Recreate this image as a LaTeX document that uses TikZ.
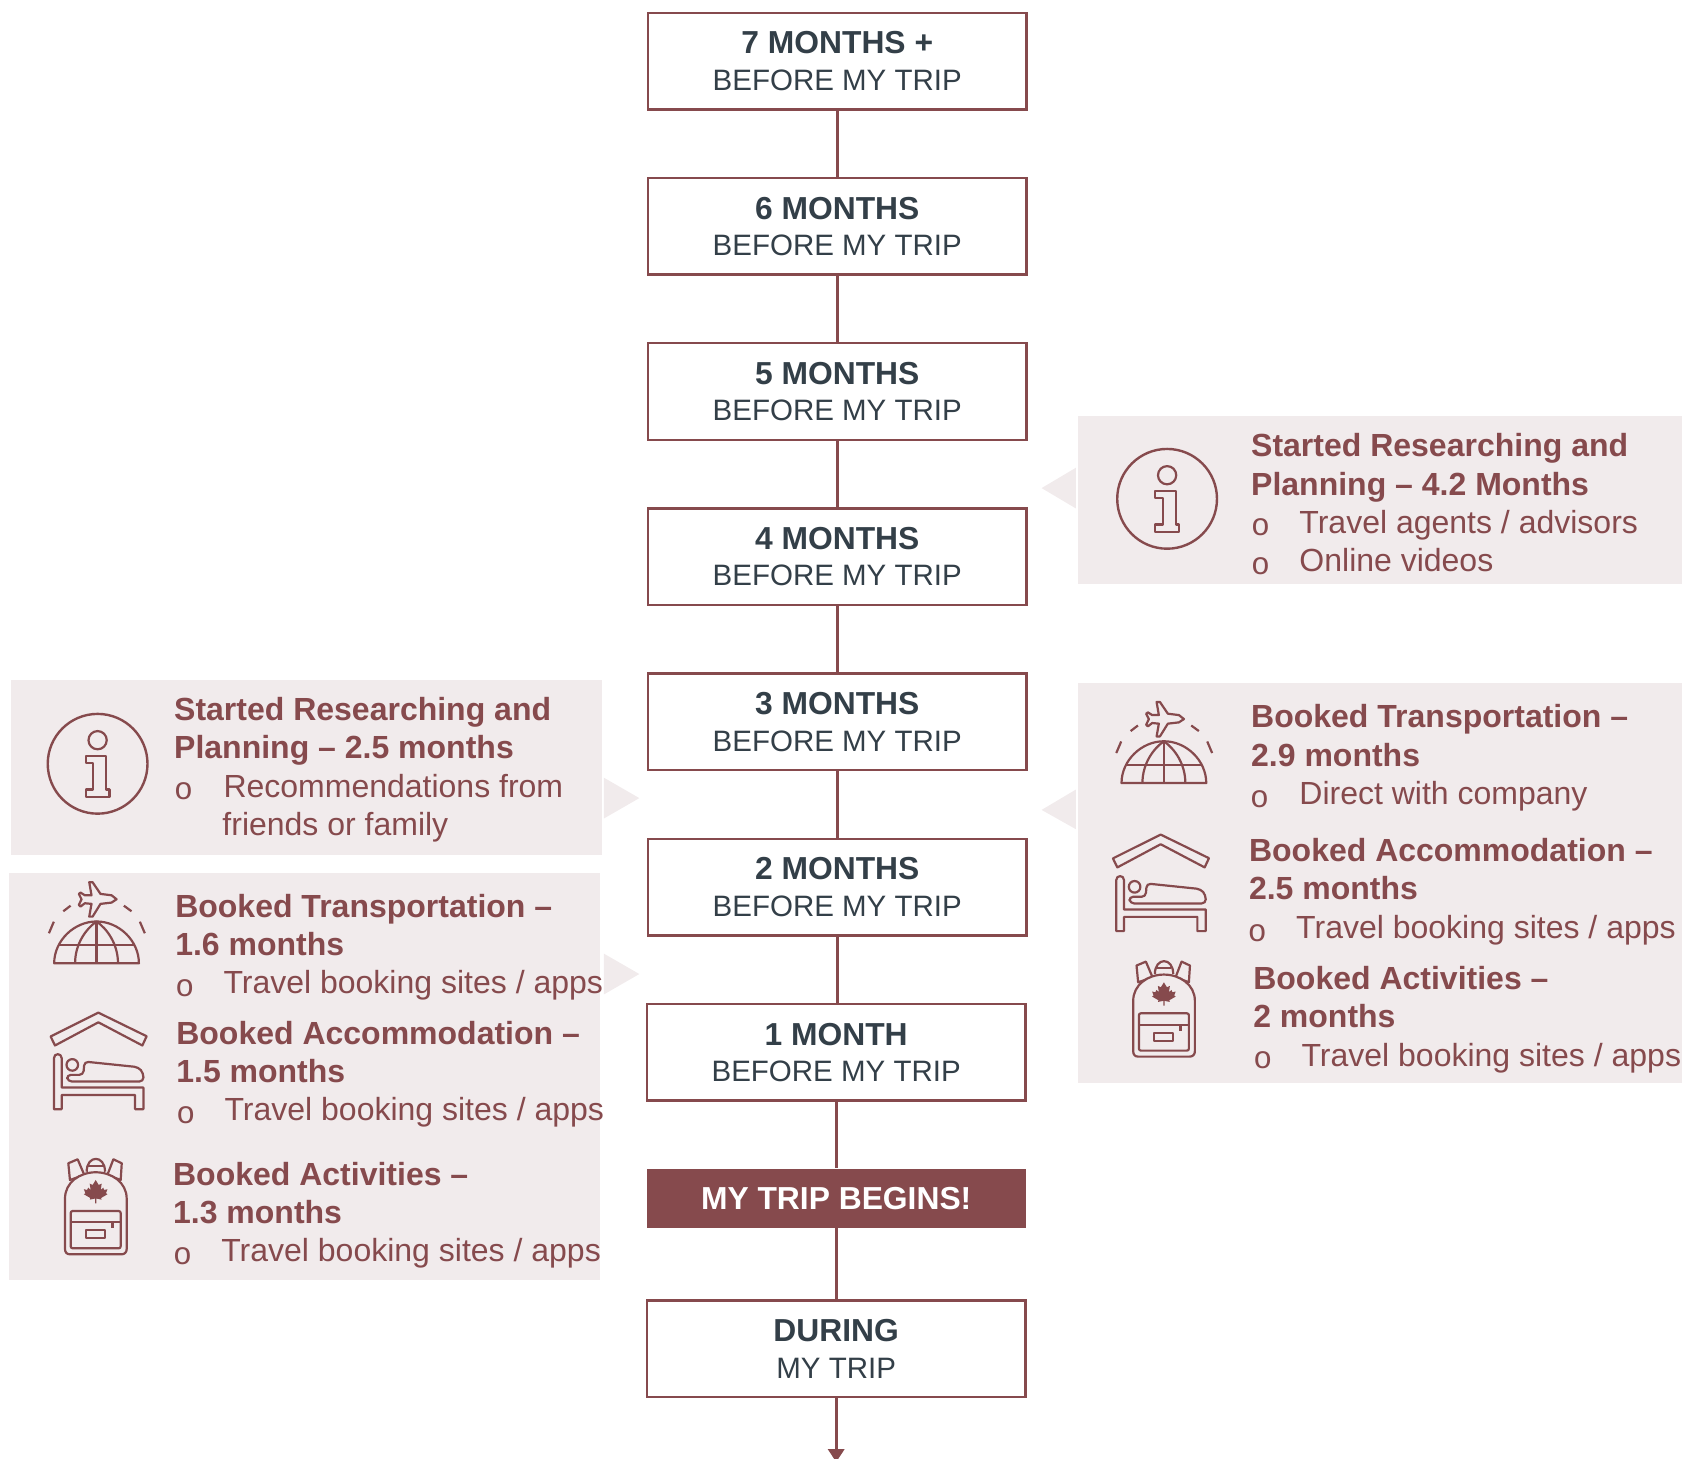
\documentclass[tikz,border=0pt]{standalone}
\usepackage{fontspec}
\setmainfont{Liberation Sans}
\newfontfamily\bulletfont{Liberation Mono}
\usetikzlibrary{arrows.meta}
\definecolor{maroon}{HTML}{864A4D}
\definecolor{slate}{HTML}{333F48}
\definecolor{panelbg}{HTML}{F1EBEC}
\tikzset{
  stagebox/.style={draw=maroon,line width=1.2pt,fill=white,minimum width=353*0.53635pt,minimum height=90*0.53635pt,inner sep=0pt,align=center,text=slate,font=\fontsize{14.75}{18.2}\selectfont},
  beginbox/.style={fill=maroon,minimum width=353*0.53635pt,minimum height=55*0.53635pt,inner sep=0pt,text=white,font=\fontsize{15.9}{18.4}\selectfont\bfseries},
  link/.style={draw=maroon,line width=1.6pt},
  panel/.style={fill=panelbg,draw=none},
  head/.style={anchor=base west,inner sep=0pt,text=maroon,font=\fontsize{16}{19}\selectfont\bfseries},
  item/.style={anchor=base west,inner sep=0pt,text=maroon,font=\fontsize{16}{19}\selectfont},
  dot/.style={anchor=base west,inner sep=0pt,text=maroon,font=\fontsize{15.7}{19}\bulletfont},
  icon/.style={draw=maroon,line width=1.1pt,line join=round},
  infoicon/.pic={
    \draw[icon,line width=1.2pt] (0,0) circle (46.5);
    \draw[icon] (0,-22) circle (8.5);
    \draw[icon] (-11,-7) -- (8,-7) -- (8,24) -- (11,24) -- (11,31) -- (-11,31) -- (-11,24) -- (-4,24) -- (-4,-1) -- (-11,-1) -- cycle;
  },
  globeicon/.pic={
    \draw[icon] (-39.5,0) .. controls (-39.5,-21) and (-21,-39) .. (0,-39) .. controls (21,-39) and (39.5,-21) .. (39.5,0) -- cycle;
    \draw[icon] (-20,0) .. controls (-20,-18) and (-10,-32) .. (0,-39) .. controls (10,-32) and (20,-18) .. (20,0);
    \draw[icon] (0,-39) -- (0,0);
    \draw[icon] (-35.6,-17) -- (35.6,-17);
    \draw[icon] (-44.4,-28) -- (-39.8,-38.8);
    \draw[icon] (45,-28) -- (40.4,-38.8);
    \draw[icon] (-31,-48.5) -- (-24.2,-53.7);
    \draw[icon] (25.5,-53.7) -- (32.6,-48.5);
    \draw[icon] (-6.8,-75.6) -- (-3.7,-75.6) -- (3.7,-64.7) -- (14,-63.4) -- (18.7,-59.7) -- (14,-56.6) -- (3.7,-55.4) -- (-3.7,-43.5) -- (-6.8,-43.5) -- (-4.7,-55.4) -- (-10.9,-56) -- (-14.9,-52.9) -- (-16.5,-54.4) -- (-14,-59.7) -- (-16.5,-64.7) -- (-14.9,-65.9) -- (-10.9,-63.4) -- (-4.7,-63.4) -- cycle;
  },
  bedicon/.pic={
    \draw[icon] (0,-44) -- (45,-22) -- (41,-13.4) -- (0,-35) -- (-40.4,-13.4) -- (-44.5,-21.8) -- cycle;
    \draw[icon] (-41.4,46) -- (-34.2,46) -- (-34.2,32.7) -- (34.2,32.7) -- (34.2,46) -- (42,46) -- (42,25.8) -- (-34.2,25.8) -- (-34.2,-1.6) .. controls (-34.2,-6.5) and (-41.4,-6.5) .. (-41.4,-1.6) -- cycle;
    \draw[icon] (-24.3,4.7) circle (5.4);
    \draw[icon,rounded corners=2pt] (-14,14) -- (-13,1.6) -- (37.3,6.8) -- (42,12.4) -- (42,20.2) -- (-28.5,20.2) -- (-29.5,14) -- cycle;
  },
  packicon/.pic={
    \draw[icon,fill=panelbg] (-25.5,-38.9) -- (-16.8,-42.6) -- (-10.6,-28) -- (-24,-23.3) -- cycle;
    \draw[icon,fill=panelbg] (24.3,-38.9) -- (16.5,-42.6) -- (10.9,-28) -- (23.3,-23.3) -- cycle;
    \draw[icon] (-8.4,-31) .. controls (-8.4,-47) and (8.7,-47) .. (8.7,-31);
    \draw[icon] (-7,-36.7) -- (7,-36.7);
    \draw[icon,fill=panelbg] (-28.6,-6) .. controls (-28.6,-21) and (-15,-30.5) .. (0,-30.5) .. controls (15,-30.5) and (28.9,-21) .. (28.9,-6) -- (28.9,41) .. controls (28.9,44) and (27,46) .. (24,46) -- (-24,46) .. controls (-27,46) and (-28.6,44) .. (-28.6,41) -- cycle;
    \draw[icon,rounded corners=1pt] (-23.3,5.6) rectangle (23.3,40.4);
    \draw[icon] (-23.3,16.2) -- (23.3,16.2);
    \fill[maroon] (14,16.2) rectangle (16.8,21.8);
    \draw[icon] (-9,23.6) rectangle (8.7,31.1);
    \fill[maroon] (0,-23.3) -- (2.8,-18.7) -- (5.6,-19.9) -- (4.7,-14) -- (7,-16.2) -- (8,-14) -- (11,-14.7) -- (9.6,-11) -- (11,-10) -- (5,-6.5) -- (5.5,-5) -- (0.6,-6) -- (0.6,-1.6) -- (-0.6,-1.6) -- (-0.6,-6) -- (-5.5,-5) -- (-5,-6.5) -- (-11,-10) -- (-9.6,-11) -- (-11,-14.7) -- (-8,-14) -- (-7,-16.2) -- (-4.7,-14) -- (-5.6,-19.9) -- (-2.8,-18.7) -- cycle;
  }
}
\newcommand{\stagetext}[2]{{\fontsize{15.9}{18.2}\selectfont\bfseries #1}\\#2}
\begin{document}
\begin{tikzpicture}[x=0.53635pt,y=-0.53635pt]
\useasboundingbox (0,0) rectangle (1568,1360);
% panels
\fill[panel] (1005,388) rectangle (1568,544);
\fill[panel] (1005,637) rectangle (1568,1010);
\fill[panel] (10,634) rectangle (561,797);
\fill[panel] (8,814) rectangle (559,1193);
% chevrons
\fill[panelbg] (1003,436) -- (971,455) -- (1003,474) -- cycle;
\fill[panelbg] (1003,736) -- (971,755) -- (1003,773) -- cycle;
\fill[panelbg] (563,725) -- (596,744) -- (563,763) -- cycle;
\fill[panelbg] (563,889) -- (596,908) -- (563,927) -- cycle;
% timeline
\node[stagebox] (b7) at (780.5,57) {\stagetext{7 MONTHS +}{BEFORE MY TRIP}};
\node[stagebox] (b6) at (780.5,211) {\stagetext{6 MONTHS}{BEFORE MY TRIP}};
\node[stagebox] (b5) at (780.5,365) {\stagetext{5 MONTHS}{BEFORE MY TRIP}};
\node[stagebox] (b4) at (780.5,519) {\stagetext{4 MONTHS}{BEFORE MY TRIP}};
\node[stagebox] (b3) at (780.5,673) {\stagetext{3 MONTHS}{BEFORE MY TRIP}};
\node[stagebox] (b2) at (780.5,827) {\stagetext{2 MONTHS}{BEFORE MY TRIP}};
\node[stagebox] (b1) at (779.5,981) {\stagetext{1 MONTH}{BEFORE MY TRIP}};
\node[beginbox] (go) at (779.5,1117) {\raisebox{-0.5pt}{MY TRIP BEGINS!}};
\node[stagebox] (during) at (779.5,1257.5) {\stagetext{DURING}{MY TRIP}};
\coordinate (arrowend) at (779.5,1363);
\draw[link] (b7.south) -- (b6.north);
\draw[link] (b6.south) -- (b5.north);
\draw[link] (b5.south) -- (b4.north);
\draw[link] (b4.south) -- (b3.north);
\draw[link] (b3.south) -- (b2.north);
\draw[link] (b2.south) -- (b2.south |- b1.north);
\draw[link] (b1.south) -- (go.north);
\draw[link] (go.south) -- (during.north);
\draw[link,-{Triangle[length=6.5pt,width=8pt]}] (during.south) -- (arrowend);
% right panel 1
\pic at (1088,465) {infoicon};
\node[head] (r1) at (1166,426) {Started Researching and};
\node[head] (r2) at (1166,462) {Planning – 4.2 Months};
\node[dot] (r3o) at (1166,499.5) {o};
\node[item] (r3) at (1211,497) {Travel agents / advisors};
\node[dot] (r4o) at (1166,535.5) {o};
\node[item] (r4) at (1211,533) {Online videos};
% right panel 2
\pic at (1085,730) {globeicon};
\node[head] (r5) at (1166,678) {Booked Transportation –};
\node[head] (r6) at (1166,714.5) {2.9 months};
\node[dot] (r7o) at (1165,752.5) {o};
\node[item] (r7) at (1211,750) {Direct with company};
\pic at (1082,822) {bedicon};
\node[head] (r8) at (1164,803) {Booked Accommodation –};
\node[head] (r9) at (1164,838.5) {2.5 months};
\node[dot] (r10o) at (1163,877.5) {o};
\node[item] (r10) at (1208,875) {Travel booking sites / apps};
\pic at (1085,939) {packicon};
\node[head] (r11) at (1168,922) {Booked Activities –};
\node[head] (r12) at (1168,958) {2 months};
\node[dot] (r13o) at (1168,996.5) {o};
\node[item] (r13) at (1213,994) {Travel booking sites / apps};
% left panel 1
\pic at (91,712) {infoicon};
\node[head] (l1) at (162,671.5) {Started Researching and};
\node[head] (l2) at (162,707) {Planning – 2.5 months};
\node[dot] (l3o) at (162,745.5) {o};
\node[item] (l3) at (208,743) {Recommendations from};
\node[item] (l4) at (207,778.5) {friends or family};
% left panel 2
\pic at (90,898) {globeicon};
\node[head] (l5) at (163,855) {Booked Transportation –};
\node[head] (l6) at (163,890.5) {1.6 months};
\node[dot] (l7o) at (163,928.5) {o};
\node[item] (l7) at (208,926) {Travel booking sites / apps};
\pic at (91.7,988) {bedicon};
\node[head] (l8) at (164,973.5) {Booked Accommodation –};
\node[head] (l9) at (164,1009) {1.5 months};
\node[dot] (l10o) at (164,1047.5) {o};
\node[item] (l10) at (209,1045) {Travel booking sites / apps};
\pic at (89.2,1123.3) {packicon};
\node[head] (l11) at (161,1105) {Booked Activities –};
\node[head] (l12) at (161,1140.5) {1.3 months};
\node[dot] (l13o) at (161,1178.5) {o};
\node[item] (l13) at (206,1176) {Travel booking sites / apps};
\end{tikzpicture}
\end{document}
